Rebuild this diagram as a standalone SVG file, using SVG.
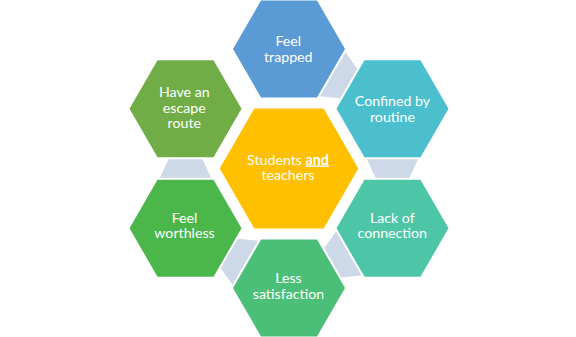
<svg xmlns="http://www.w3.org/2000/svg" width="576" height="337" viewBox="0 0 576 337">
  <defs>
    <polygon id="hexO" points="-56,0 -28,-48.5 28,-48.5 56,0 28,48.5 -28,48.5"/>
    <polygon id="conn" points="-25.5,-9.25 25.5,-9.25 17,9.25 -17,9.25"/>
  </defs>
  <style>
    .lbl { font-family: Lato, "Liberation Sans", sans-serif; font-size: 14.2px; fill: #ffffff; text-anchor: middle; }
    .conn { fill: #CDD8E8; }
  </style>
  <rect width="576" height="337" fill="#ffffff"/>
  <g id="connectors">
    <use href="#conn" class="conn" transform="translate(340.75,78.87) rotate(-60)"/>
    <use href="#conn" class="conn" transform="translate(392.49,168.5) rotate(0)"/>
    <use href="#conn" class="conn" transform="translate(340.75,258.13) rotate(60)"/>
    <use href="#conn" class="conn" transform="translate(237.25,258.13) rotate(120)"/>
    <use href="#conn" class="conn" transform="translate(185.51,168.5) rotate(180)"/>
  </g>
  <g id="center">
    <polygon points="219.7,168.5 254.35,108.5 323.65,108.5 358.3,168.5 323.65,228.5 254.35,228.5" fill="#FFC000"/>
    <text class="lbl" x="288" y="164.5">Students <tspan font-weight="bold" text-decoration="underline">and</tspan></text>
    <text class="lbl" x="288" y="180">teachers</text>
  </g>
  <g id="feel-trapped">
    <use href="#hexO" transform="translate(289,49)" fill="#5B9BD5"/>
    <text class="lbl" x="288.3" y="46">Feel</text>
    <text class="lbl" x="288.3" y="61.5">trapped</text>
  </g>
  <g id="confined">
    <use href="#hexO" transform="translate(392.49,108.75)" fill="#4BBFCD"/>
    <text class="lbl" x="392.5" y="106">Confined by</text>
    <text class="lbl" x="392.5" y="121.8">routine</text>
  </g>
  <g id="lack-connection">
    <use href="#hexO" transform="translate(392.49,228.25)" fill="#4DC6A8"/>
    <text class="lbl" x="392.3" y="222.7">Lack of</text>
    <text class="lbl" x="392.3" y="238.3">connection</text>
  </g>
  <g id="less-satisfaction">
    <use href="#hexO" transform="translate(289,288)" fill="#4BBE78"/>
    <text class="lbl" x="288.5" y="283.3">Less</text>
    <text class="lbl" x="288.5" y="298.7">satisfaction</text>
  </g>
  <g id="feel-worthless">
    <use href="#hexO" transform="translate(185.51,228.25)" fill="#4BB74B"/>
    <text class="lbl" x="184.5" y="222.6">Feel</text>
    <text class="lbl" x="184.5" y="238.2">worthless</text>
  </g>
  <g id="escape-route">
    <use href="#hexO" transform="translate(185.51,108.75)" fill="#70AD47"/>
    <text class="lbl" x="184.3" y="97">Have an</text>
    <text class="lbl" x="184.3" y="112.5">escape</text>
    <text class="lbl" x="184.3" y="128.3">route</text>
  </g>
</svg>
